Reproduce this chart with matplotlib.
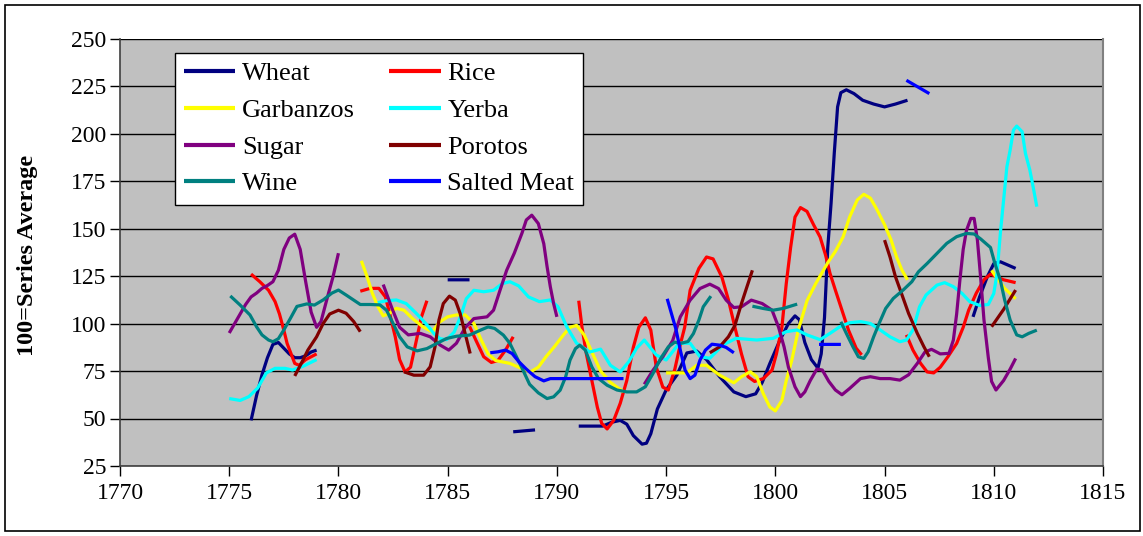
import numpy as np
import matplotlib
matplotlib.use("Agg")
import matplotlib.pyplot as plt
from matplotlib.patches import Rectangle

nan = np.nan

# series (year, index value), nan = gap
wheat_x = [1776, 1776.25, 1776.5, 1776.75, 1777, 1777.25, 1777.5, 1777.75, 1778, 1778.25, 1778.5, 1778.75, 1779, nan,
           1785, 1786, nan,
           1788, 1789, nan,
           1791, 1791.5, 1792.1, 1792.5, 1792.9, 1793.2, 1793.5, 1793.9, 1794.1, 1794.3, 1794.6, 1795.0, 1795.5,
           1795.95, 1796.4, 1796.85, 1797.45, 1798.1, 1798.65, 1799.1, 1799.4, 1799.75, 1800.2, 1800.6, 1800.9,
           1801.1, 1801.35, 1801.65, 1801.95, 1802.1, 1802.25, 1802.4, 1802.55, 1802.7, 1802.85, 1803.0, 1803.25,
           1803.6, 1804.0, 1804.5, 1805.0, 1805.5, 1806.05, nan,
           1809.05, 1809.35, 1809.7, 1810.0, 1810.3, 1810.6, 1811.0]
wheat_y = [49, 62, 73, 82, 89, 90, 87, 84, 82, 82, 83, 85, 86, nan,
           123, 123, nan,
           43, 44, nan,
           46, 46, 46, 48, 49, 47, 41, 36.5, 37, 42, 55, 65, 73,
           84.5, 85.5, 81, 72, 64, 61.5, 63, 69, 79, 91, 100, 104,
           102, 90, 81, 76.5, 84, 103, 140, 163, 190, 214, 221.5, 223,
           221, 217.5, 215.5, 214, 215.5, 217.5, nan,
           103.5, 114, 124.5, 131.5, 132.5, 131, 129]

rice_x = [1776, 1776.4, 1776.8, 1777.1, 1777.3, 1777.5, 1777.65, 1777.8, 1778.0, 1778.2, 1778.5, 1779.0, nan,
          1781.0, 1781.45, 1781.85, 1782.15, 1782.35, 1782.6, 1782.8, 1783.05, 1783.3, 1783.5, 1783.8, 1784.05, nan,
          1786.0, 1786.3, 1786.65, 1787.0, 1787.3, 1787.65, 1788.0, nan,
          1791.0, 1791.15, 1791.35, 1791.6, 1791.85, 1792.05, 1792.3, 1792.6, 1792.9, 1793.2, 1793.5, 1793.75,
          1794.05, 1794.3, 1794.55, 1794.85, 1795.1, 1795.4, 1795.65, 1795.85, 1796.1, 1796.5, 1796.85, 1797.15,
          1797.55, 1797.85, 1798.15, 1798.45, 1798.75, 1799.05, 1799.45, 1799.85, 1800.05, 1800.3, 1800.5, 1800.7,
          1800.9, 1801.15, 1801.45, 1801.75, 1802.05, 1802.3, 1802.5, 1802.75, 1803.05, 1803.35, 1803.7, 1803.95, nan,
          1806.0, 1806.3, 1806.65, 1806.95, 1807.25, 1807.55, 1807.9, 1808.3, 1808.6, 1808.85, 1809.2, 1809.55,
          1809.85, 1810.15, 1810.45, 1811.0]
rice_y = [126, 122, 117.5, 111.5, 105, 96.5, 89.5, 85, 79, 78, 81, 84, nan,
          117, 118.5, 118.5, 114, 105, 93, 81, 74.5, 77, 87.5, 103.5, 112, nan,
          98.5, 91, 82.5, 79.5, 80.5, 86, 93, nan,
          112, 98, 84, 70, 56, 47.5, 44.5, 49, 58, 70, 87.5, 98,
          103, 96.5, 77, 66.5, 65, 76, 89, 98, 117.5, 129, 135, 134,
          124.5, 112.5, 98, 84, 72, 69.5, 71, 75.5, 84, 98, 121, 140,
          156, 161, 159, 152, 145.5, 136, 126.5, 117.5, 107, 96.5, 87, 83.5, nan,
          94, 86, 79, 74.5, 74, 77, 82.5, 89.5, 98, 107, 116, 123,
          126, 124.5, 123, 121.5]

garbanzos_x = [1781.05, 1781.3, 1781.55, 1781.8, 1782.05, 1782.35, 1782.65, 1783.0, 1783.4, 1783.9, 1784.3, 1784.6,
               1785.0, 1785.4, 1785.8, 1786.2, 1786.55, 1786.85, 1787.2, 1787.85, 1788.45, 1788.8, 1789.15, 1789.5,
               1789.9, 1790.3, 1790.6, 1790.9, 1791.25, 1791.6, 1792.0, 1792.45, 1793.05, nan,
               1795.0, 1795.5, 1795.95, 1796.4, 1796.85, 1797.45, 1798.1, 1798.45, 1798.85, 1799.15, 1799.45, 1799.75,
               1800.0, 1800.3, 1800.5, 1800.75, 1801.05, 1801.45, 1801.85, 1802.1, 1802.4, 1802.75, 1803.1, 1803.4,
               1803.75, 1804.05, 1804.35, 1804.65, 1805.0, 1805.3, 1805.55, 1805.8, 1806.05, nan,
               1809.9, 1810.2, 1810.5, 1811.0]
garbanzos_y = [133, 125, 116, 109, 104, 105.5, 108, 107, 102.5, 98, 95.5, 100.5,
               103.5, 104.5, 104.5, 100, 91, 84, 80.5, 79, 76, 74.6, 77, 82.5,
               88, 94, 98, 99, 94, 85, 75, 69, 64, nan,
               74, 74, 74, 78, 78, 72.8, 68.8, 72, 74.6, 72, 63, 56,
               54, 59.5, 70, 80.5, 96.5, 112, 121, 126, 132, 138, 145.5, 156,
               165, 168, 166, 160, 152, 144, 135, 128, 123, nan,
               128, 123, 118.5, 113]

yerba_x = [1775, 1775.25, 1775.5, 1775.9, 1776.3, 1776.7, 1777.1, 1777.55, 1777.9, 1778.4, 1779.0, nan,
           1781.8, 1782.2, 1782.65, 1783.1, 1783.55, 1784.0, 1784.35, 1784.65, 1784.95, 1785.3, 1785.6, 1785.85,
           1786.2, 1786.65, 1787.1, 1787.5, 1787.85, 1788.25, 1788.7, 1789.2, 1789.7, 1790.05, 1790.45, 1790.9,
           1791.5, 1792.0, 1792.45, 1792.9, 1793.3, 1793.65, 1794.0, 1794.55, 1795.0, 1795.6, 1796.1, 1796.55,
           1797.0, 1797.6, 1798.2, 1799.15, 1799.9, 1800.5, 1801.0, 1801.45, 1802.05, 1802.5, 1802.95, 1803.4,
           1803.9, 1804.35, 1804.8, 1805.25, 1805.7, 1806.0, 1806.3, 1806.6, 1806.9, 1807.4, 1807.75, 1808.15,
           1808.55, 1808.9, 1809.35, 1809.75, 1810.0, 1810.15, 1810.3, 1810.45, 1810.6, 1810.75, 1810.9, 1811.05,
           1811.3, 1811.45, 1811.65, 1811.8, 1811.97]
yerba_y = [60.5, 60, 59.5, 61.5, 66, 74, 76.4, 76.4, 75.5, 77.6, 81, nan,
           111, 112, 112.4, 110.5, 105.5, 100, 95, 92, 91.5, 95.5, 104, 113,
           117.5, 116.7, 117.5, 121, 122, 119.8, 114, 111.5, 112.4, 108.8, 98.3, 89.6,
           85, 86.5, 78, 74.5, 80, 87, 91.3, 83.4, 80.8, 89.6, 89.6, 82.5,
           81.7, 88.7, 92.2, 91.3, 92.2, 95.7, 96.6, 94, 91.5, 94.8, 98.3, 100.4,
           101, 100, 96.6, 93, 90.4, 91.3, 96.6, 108.8, 115, 120.2, 121.5, 119.4,
           115.8, 111.5, 109.5, 110, 115.8, 126.4, 147.4, 165, 182.5, 191.3, 201.8, 203.9,
           200.9, 189.5, 180.8, 172, 161.5]

sugar_x = [1775, 1775.25, 1775.5, 1775.75, 1776, 1776.25, 1776.5, 1776.75, 1777, 1777.25, 1777.5, 1777.75, 1778,
           1778.25, 1778.5, 1778.75, 1779, 1779.2, 1779.5, 1779.75, 1780, nan,
           1782.05, 1782.45, 1782.8, 1783.2, 1783.75, 1784.2, 1784.65, 1785.05, 1785.4, 1785.8, 1786.2, 1786.8,
           1787.1, 1787.4, 1787.7, 1788.05, 1788.4, 1788.6, 1788.85, 1789.15, 1789.4, 1789.55, 1789.7, 1789.85,
           1790.0, nan,
           1794.0, 1794.4, 1794.85, 1795.3, 1795.65, 1796.1, 1796.55, 1797.0, 1797.4, 1797.75, 1798.1, 1798.45,
           1798.9, 1799.4, 1799.85, 1800.15, 1800.4, 1800.6, 1800.9, 1801.15, 1801.35, 1801.6, 1801.9, 1802.15,
           1802.45, 1802.75, 1803.05, 1803.4, 1803.9, 1804.35, 1804.8, 1805.25, 1805.7, 1806.1, 1806.5, 1806.85,
           1807.15, 1807.55, 1807.95, 1808.15, 1808.3, 1808.45, 1808.6, 1808.75, 1808.95, 1809.1, 1809.25, 1809.4,
           1809.55, 1809.75, 1809.9, 1810.1, 1810.45, 1810.75, 1811.0]
sugar_y = [95, 100, 105, 110, 114, 116, 118.5, 120, 122, 128, 139, 145, 147,
           139, 122, 106, 98, 101, 114, 124.5, 137, nan,
           120.5, 108, 98, 94, 94.8, 93, 88.7, 86, 89.6, 97.8, 102.6, 103.5,
           107, 117.6, 128, 137, 147.5, 154.5, 157, 152.6, 142, 130, 119.3, 110.5,
           103.5, nan,
           68, 75.4, 82.5, 91, 103.5, 112.3, 118.4, 120.7, 118.4, 112.3, 108.4, 108.8,
           112.3, 110.5, 107, 98, 87.7, 77, 66.7, 61.5, 64, 70, 76, 75.5,
           69.5, 65, 62.5, 65.8, 71, 72, 71, 71, 70.2, 73, 79, 85,
           86.4, 84, 84.3, 91.3, 105, 123, 139, 149, 155.3, 155.3, 144, 124,
           102, 82, 69.5, 65, 70, 76, 81.6]

porotos_x = [1778.0, 1778.3, 1778.6, 1779.0, 1779.3, 1779.6, 1780.0, 1780.35, 1780.7, 1781.0, nan,
             1783.0, 1783.45, 1783.9, 1784.2, 1784.42, 1784.6, 1784.8, 1785.08, 1785.35, 1785.57, 1785.8, 1786.03, nan,
             1797.0, 1797.45, 1797.85, 1798.15, 1798.45, 1798.7, 1798.95, nan,
             1805.0, 1805.25, 1805.5, 1805.8, 1806.1, 1806.5, 1806.8, 1807.05, nan,
             1809.9, 1810.45, 1811.0]
porotos_y = [72.4, 79, 86, 93, 100, 105, 107, 105.4, 101, 95.7, nan,
             74.6, 72.8, 72.8, 77.2, 87.7, 101.8, 110.5, 114.4, 112.3, 105.3, 94.7, 84.2, nan,
             84.6, 87.7, 93, 99, 110.5, 119.3, 128, nan,
             143.9, 135, 124.6, 115, 105.3, 94.8, 87.8, 82.5, nan,
             98.3, 107.4, 117.6]

wine_x = [1775.05, 1775.5, 1775.95, 1776.25, 1776.5, 1776.8, 1777.0, 1777.25, 1777.5, 1777.8, 1778.1, 1778.55,
          1778.9, 1779.3, 1779.7, 1780.0, 1780.35, 1781.0, 1781.45, 1781.9, 1782.2, 1782.5, 1782.8, 1783.15,
          1783.6, 1784.05, 1784.5, 1784.95, 1785.4, 1786.0, 1786.5, 1786.85, 1787.15, 1787.55, 1787.85, 1788.15,
          1788.45, 1788.75, 1789.15, 1789.55, 1789.85, 1790.15, 1790.4, 1790.6, 1790.85, 1791.05, 1791.3, 1791.6,
          1791.9, 1792.3, 1792.75, 1793.2, 1793.65, 1794.05, 1794.4, 1794.75, 1795.1, 1795.4, 1795.65, 1796.0,
          1796.25, 1796.5, 1796.7, 1797.05, nan,
          1798.95, 1799.45, 1799.9, 1800.35, 1801.0, nan,
          1803.0, 1803.25, 1803.55, 1803.8, 1804.05, 1804.25, 1804.5, 1804.75, 1805.05, 1805.4, 1805.85, 1806.25,
          1806.55, 1806.95, 1807.4, 1807.85, 1808.3, 1808.75, 1809.1, 1809.4, 1809.85, 1810.05, 1810.3, 1810.5,
          1810.75, 1811.05, 1811.3, 1811.6, 1811.97]
wine_y = [114.5, 109.7, 104.5, 98.3, 94, 91.3, 90.4, 92, 96.6, 102.7, 109, 110.3,
          109.7, 112.4, 116, 117.6, 115, 110, 110, 109.8, 107, 100, 93, 87.7,
          85.6, 86.8, 89.5, 92.1, 93.3, 93.9, 96.5, 98.2, 97.4, 93.9, 89.5, 82.5,
          75.4, 68, 63.5, 60.5, 61.4, 64.9, 71.9, 80.7, 86.8, 88.6, 86, 77.2,
          71.1, 67.5, 65, 64, 64, 66.7, 73.7, 81.6, 87.7, 90.2, 89.5, 90.5,
          94.7, 101.8, 108.8, 114.4, nan,
          109.1, 107.9, 107, 107.9, 110.2, nan,
          100.9, 94.8, 87.8, 82.5, 81.6, 85.1, 93, 100, 107.9, 113.2, 117.6, 122,
          127.2, 131.6, 136.9, 142.2, 145.7, 147.4, 147.1, 144.5, 140, 131.6, 122.9, 112.3,
          101.8, 94, 93, 94.8, 96.5]

meat_x = [1786.95, 1787.3, 1787.65, 1787.95, 1788.25, 1788.6, 1789.0, 1789.4, 1789.7, 1790.15, 1791.05, 1792.0,
          1793.05, nan,
          1795.05, 1795.25, 1795.45, 1795.65, 1795.87, 1796.1, 1796.32, 1796.55, 1796.8, 1797.1, 1797.45, 1797.75,
          1798.1, nan,
          1802.0, 1803.0, nan,
          1806.0, 1807.05]
meat_y = [84.6, 85.1, 86, 84.2, 80, 76, 72, 69.8, 71, 71, 71, 71,
          71, nan,
          113, 105, 97, 86, 75.4, 71, 72.8, 80.7, 86, 89.1, 88.6, 87.4,
          84.6, nan,
          89, 89, nan,
          228, 221]

series = [
    ("Wheat", wheat_x, wheat_y, "#000080"),
    ("Rice", rice_x, rice_y, "#FF0000"),
    ("Garbanzos", garbanzos_x, garbanzos_y, "#FFFF00"),
    ("Yerba", yerba_x, yerba_y, "#00FFFF"),
    ("Sugar", sugar_x, sugar_y, "#800080"),
    ("Porotos", porotos_x, porotos_y, "#800000"),
    ("Wine", wine_x, wine_y, "#008080"),
    ("Salted Meat", meat_x, meat_y, "#0000FF"),
]

x_ticks = [1770, 1775, 1780, 1785, 1790, 1795, 1800, 1805, 1810, 1815]
y_ticks = [25, 50, 75, 100, 125, 150, 175, 200, 225, 250]

plt.rcParams['font.family'] = ['Liberation Serif', 'DejaVu Serif']

W, H = 1143, 536
fig = plt.figure(figsize=(W / 100, H / 100), dpi=100)
fig.patch.set_facecolor("white")
# outer chart border
fig.patches.append(Rectangle((5 / W, 5 / H), 1135 / W, 526 / H, transform=fig.transFigure,
                             fill=False, edgecolor="black", linewidth=1.2))

ax = fig.add_axes([120 / W, (H - 466) / H, 983 / W, 427.5 / H])
ax.set_facecolor("#C0C0C0")

lines = {}
for name, xs, ys, col in series:
    ln, = ax.plot(np.array(xs, float), np.array(ys, float), color=col, linewidth=2.3,
                  solid_capstyle="butt", solid_joinstyle="round", label=name, zorder=3)
    lines[name] = ln

ax.set_xlim(1770, 1815)
ax.set_ylim(25, 250)
ax.set_xticks(x_ticks)
ax.set_yticks(y_ticks)
ax.yaxis.grid(True, color="black", linewidth=1)
ax.set_axisbelow(True)
ax.tick_params(axis="both", direction="out", length=7, width=1, labelsize=17, colors="black")
ax.tick_params(axis="x", pad=5)
ax.tick_params(axis="y", pad=3)
ax.spines["top"].set_visible(False)
ax.spines["right"].set_color("#808080")
ax.spines["right"].set_linewidth(1.5)
ax.spines["left"].set_color("#404040")
ax.spines["left"].set_linewidth(1.2)
ax.spines["bottom"].set_color("#404040")
ax.spines["bottom"].set_linewidth(1.2)

fig.text(28 / W, 1 - 255 / H, "100=Series Average", rotation=90, fontsize=17.5, fontweight="bold",
         ha="center", va="center")

order = ["Wheat", "Garbanzos", "Sugar", "Wine", "Rice", "Yerba", "Porotos", "Salted Meat"]
leg = ax.legend([lines[n] for n in order], order, ncol=2, loc="upper left",
                bbox_to_anchor=((174.7 - 120) / 983, (466 - 52.7) / 427.5), borderaxespad=0,
                fontsize=19, frameon=True, fancybox=False, framealpha=1, edgecolor="black",
                handlelength=1.95, handletextpad=0.25, columnspacing=1.3, labelspacing=0.5,
                borderpad=0.35)
leg.get_frame().set_linewidth(1.0)
for lh in leg.get_lines():
    lh.set_linewidth(3)

fig.savefig("out.png", dpi=100)
